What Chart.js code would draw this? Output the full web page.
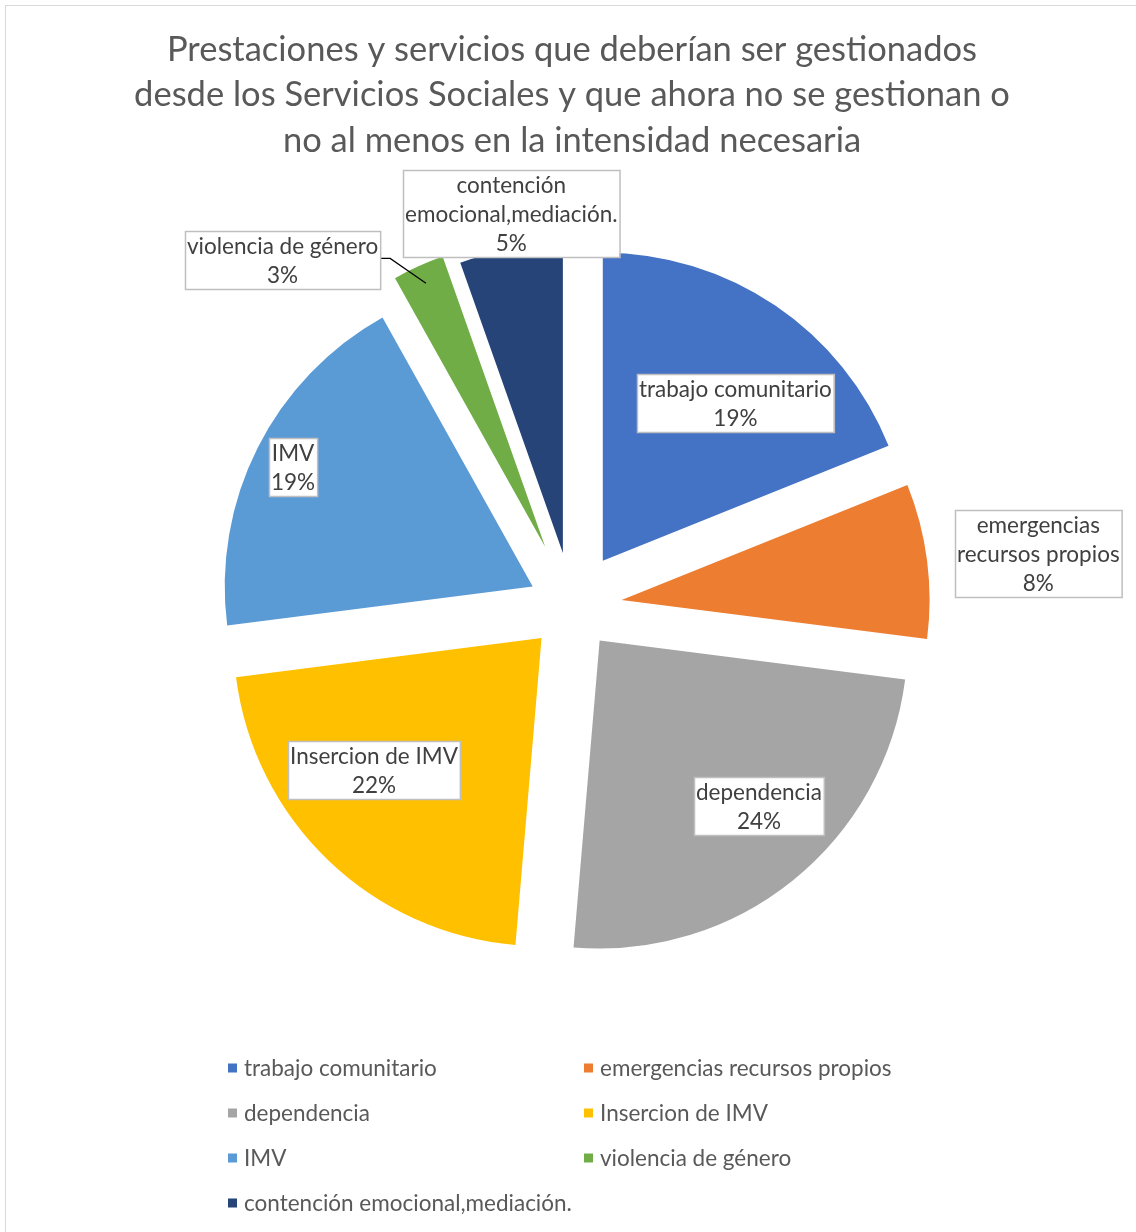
<!DOCTYPE html>
<html lang="es">
<head>
<meta charset="utf-8">
<title>Prestaciones y servicios</title>
<script src="https://cdn.jsdelivr.net/npm/chart.js@4.4.1/dist/chart.umd.min.js"></script>
<style>
  html, body { margin: 0; padding: 0; background: #fff; overflow: hidden; }
  #frame { position: absolute; left: 5px; top: 5px; width: 1200px; height: 1300px; border: 1.5px solid #d9d9d9; }
  #wrap { position: absolute; left: 0; top: 0; width: 1136px; height: 1232px; }
</style>
</head>
<body>
<div id="frame"></div>
<div id="wrap"><canvas id="pie" width="1136" height="1232"></canvas></div>
<script>
'use strict';

const TITLE_LINES = [
  'Prestaciones y servicios que deberían ser gestionados',
  'desde los Servicios Sociales y que ahora no se gestionan o',
  'no al menos en la intensidad necesaria'
];
const CATEGORIES = [
  'trabajo comunitario',
  'emergencias recursos propios',
  'dependencia',
  'Insercion de IMV',
  'IMV',
  'violencia de género',
  'contención emocional,mediación.'
];
// answers per category (shown as % of the total)
const COUNTS = [7, 3, 9, 8, 7, 1, 2];
const COLORS = ['#4472c4', '#ed7d31', '#a5a5a5', '#ffc000', '#5b9bd5', '#70ad47', '#264478'];

// how far each slice is pulled out from the centre (px)
const EXPLODE = [55, 50, 44, 44, 44, 65, 54];
// label boxes: distance from centre (in radii) and turn off the slice middle (deg)
const LABEL_DIST = [0.845, 1.523, 0.889, 0.835, 1.012, 1.464, 1.291];
const LABEL_TURN = [4.75, 0.8, -4.2, 6.6, -0.3, -15.6, 0.9];
const LEADER = [false, false, false, false, false, true, false];

const FONT = 'Lato, "Open Sans", sans-serif';
const LABEL_FONT = '22.5px ' + FONT;
const LABEL_LINE = 29;

const TOTAL = COUNTS.reduce((a, b) => a + b, 0);
const pct = i => Math.round(COUNTS[i] / TOTAL * 100) + '%';
const rad = deg => deg * Math.PI / 180;

// long names go on two lines, broken at the first space
function labelLines(i) {
  const name = CATEGORIES[i];
  const lines = [];
  if (name.length > 20 && name.indexOf(' ') > 0) {
    const k = name.indexOf(' ');
    lines.push(name.slice(0, k), name.slice(k + 1));
  } else {
    lines.push(name);
  }
  lines.push(pct(i));
  return lines;
}

// draws each arc shifted outwards along its middle angle
const explodePlugin = {
  id: 'explode',
  beforeDatasetDraw(chart, args) {
    const ctx = chart.ctx;
    args.meta.data.forEach((arc, i) => {
      const mid = (arc.startAngle + arc.endAngle) / 2;
      ctx.save();
      ctx.translate(Math.cos(mid) * EXPLODE[i], Math.sin(mid) * EXPLODE[i]);
      arc.draw(ctx);
      ctx.restore();
    });
    return false;
  }
};

// boxed category / percent labels
const boxLabels = {
  id: 'boxLabels',
  afterDatasetsDraw(chart) {
    const ctx = chart.ctx;
    const arcs = chart.getDatasetMeta(0).data;
    ctx.save();
    ctx.font = LABEL_FONT;
    arcs.forEach((arc, i) => {
      const mid = (arc.startAngle + arc.endAngle) / 2;
      const R = arc.outerRadius;
      const a = mid + rad(LABEL_TURN[i]);
      const cx = arc.x + Math.cos(a) * R * LABEL_DIST[i];
      const cy = arc.y + Math.sin(a) * R * LABEL_DIST[i];
      const lines = labelLines(i);
      const w = Math.max(...lines.map(t => ctx.measureText(t).width)) + 4;
      const h = lines.length * LABEL_LINE;
      const x0 = Math.round(cx - w / 2), y0 = Math.round(cy - h / 2);

      if (LEADER[i]) {
        const ex = arc.x + Math.cos(mid) * (EXPLODE[i] + R * 0.94);
        const ey = arc.y + Math.sin(mid) * (EXPLODE[i] + R * 0.94);
        ctx.beginPath();
        ctx.moveTo(x0 + w, cy - 2);
        ctx.lineTo(x0 + w + 10, cy - 2);
        ctx.lineTo(ex, ey);
        ctx.strokeStyle = '#000';
        ctx.lineWidth = 1.2;
        ctx.stroke();
      }

      ctx.fillStyle = '#fff';
      ctx.fillRect(x0, y0, w, h);
      ctx.strokeStyle = '#bfbfbf';
      ctx.lineWidth = 1.5;
      ctx.strokeRect(x0 + 0.5, y0 + 0.5, w, h);

      ctx.fillStyle = '#404040';
      ctx.textAlign = 'center';
      ctx.textBaseline = 'middle';
      lines.forEach((t, j) => ctx.fillText(t, x0 + w / 2, y0 + LABEL_LINE / 2 + j * LABEL_LINE + 1));
    });
    ctx.restore();
  }
};

// two-column legend under the pie
const LEGEND = { top: 1068, rowGap: 45, cols: [228, 584], box: 9, textGap: 16 };
const gridLegend = {
  id: 'gridLegend',
  afterDraw(chart) {
    const ctx = chart.ctx;
    ctx.save();
    ctx.font = '22.5px ' + FONT;
    ctx.textAlign = 'left';
    ctx.textBaseline = 'middle';
    CATEGORIES.forEach((name, i) => {
      const x = LEGEND.cols[i % 2];
      const y = LEGEND.top + Math.floor(i / 2) * LEGEND.rowGap;
      ctx.fillStyle = COLORS[i];
      ctx.fillRect(x, y - LEGEND.box / 2, LEGEND.box, LEGEND.box);
      ctx.fillStyle = '#595959';
      ctx.fillText(name, x + LEGEND.textGap, y + 1);
    });
    ctx.restore();
  }
};

Chart.defaults.font.family = FONT;

new Chart(document.getElementById('pie'), {
  type: 'pie',
  data: {
    labels: CATEGORIES,
    datasets: [{
      data: COUNTS,
      backgroundColor: COLORS,
      borderWidth: 0,
      radius: 308
    }]
  },
  options: {
    responsive: false,
    animation: false,
    layout: { padding: { top: 27, left: 8, right: 0, bottom: 193 } },
    plugins: {
      title: {
        display: true,
        text: TITLE_LINES,
        color: '#595959',
        font: { size: 34.5, weight: 'normal', lineHeight: 1.319 },
        padding: { top: 0, bottom: 10 }
      },
      legend: { display: false },
      tooltip: { enabled: false }
    }
  },
  plugins: [explodePlugin, boxLabels, gridLegend]
});
</script>
</body>
</html>
